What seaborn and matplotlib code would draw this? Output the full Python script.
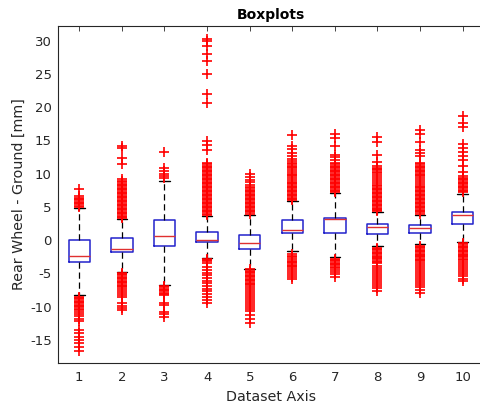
import numpy as np
import pandas as pd
import matplotlib
matplotlib.use("Agg")
import matplotlib.pyplot as plt
import seaborn as sns

# Dataset indices along the x axis
datasets = [1, 2, 3, 4, 5, 6, 7, 8, 9, 10]

# Box statistics per dataset [mm]
whisker_low = [-8.3, -4.8, -6.8, -2.7, -4.3, -1.6, -2.5, -0.9, -0.6, -0.2]
q1 = [-3.3, -1.7, -0.9, -0.3, -1.35, 1.05, 1.05, 1.0, 1.05, 2.4]
median = [-2.4, -1.3, 0.6, 0.05, -0.4, 1.5, 3.15, 2.0, 1.9, 3.75]
q3 = [0.0, 0.35, 3.1, 1.25, 0.8, 3.0, 3.4, 2.45, 2.25, 4.25]
whisker_high = [4.8, 3.2, 8.9, 3.6, 3.8, 5.9, 7.1, 4.2, 3.8, 7.0]

# Outliers above the upper whisker [mm]
outliers_high = [
    [7.7, 6.6, 6.4, 6.2, 6.0, 5.8, 5.6, 5.4, 5.2, 5.0],
    [14.2, 13.8, 12.4, 11.4, 9.2, 8.9, 8.7, 8.5, 8.3, 8.1, 7.9, 7.7, 7.5, 7.3,
     7.1, 6.9, 6.7, 6.5, 6.3, 6.1, 5.9, 5.7, 5.5, 5.3, 5.1, 4.9, 4.7, 4.5, 4.3,
     4.1, 3.9, 3.7, 3.5, 3.4],
    [13.3, 10.8, 10.4, 10.0, 9.6, 9.3],
    [30.2, 29.9, 29.2, 28.0, 27.0, 25.0, 22.0, 20.6, 14.9, 14.3, 13.6, 11.6,
     11.4, 11.2, 11.0, 10.8, 10.6, 10.4, 10.2, 10.0, 9.8, 9.6, 9.4, 9.2, 9.0,
     8.8, 8.6, 8.4, 8.2, 8.0, 7.8, 7.6, 7.4, 7.2, 7.0, 6.8, 6.6, 6.4, 6.2, 6.0,
     5.8, 5.6, 5.4, 5.2, 5.0, 4.8, 4.6, 4.4, 4.2, 4.0, 3.8],
    [9.9, 9.5, 9.1, 8.7, 8.3, 8.0, 7.8, 7.6, 7.4, 7.2, 7.0, 6.8, 6.6, 6.4, 6.2,
     6.0, 5.8, 5.6, 5.4, 5.2, 5.0, 4.8, 4.6, 4.4, 4.2, 4.0],
    [15.8, 14.2, 13.7, 13.1, 12.6, 12.2, 11.9, 11.6, 11.4, 11.2, 11.0, 10.8,
     10.5, 10.2, 10.0, 9.8, 9.6, 9.3, 9.0, 8.8, 8.6, 8.4, 8.2, 8.0, 7.8, 7.6,
     7.4, 7.2, 7.0, 6.8, 6.6, 6.4, 6.2, 6.0],
    [16.0, 15.3, 14.2, 12.8, 12.5, 12.1, 11.6, 11.4, 11.2, 11.0, 10.8, 10.6,
     10.4, 10.2, 10.0, 9.8, 9.6, 9.4, 9.2, 9.0, 8.8, 8.6, 8.4, 8.2, 8.0, 7.8,
     7.6, 7.4, 7.3],
    [15.5, 14.7, 12.8, 11.7, 11.1, 10.9, 10.7, 10.5, 10.3, 10.1, 9.8, 9.5, 9.2,
     8.9, 8.6, 8.3, 8.1, 7.9, 7.7, 7.5, 7.3, 7.1, 6.9, 6.7, 6.5, 6.3, 6.1, 5.9,
     5.7, 5.5, 5.3, 5.1, 4.9, 4.7, 4.5, 4.4],
    [16.6, 16.0, 14.7, 13.6, 13.1, 12.6, 11.6, 11.4, 11.2, 11.0, 10.8, 10.6,
     10.4, 10.2, 10.0, 9.8, 9.6, 9.3, 9.0, 8.7, 8.4, 8.2, 8.0, 7.8, 7.6, 7.4,
     7.2, 7.0, 6.8, 6.6, 6.4, 6.2, 6.0, 5.8, 5.6, 5.4, 5.2, 5.0, 4.8, 4.6, 4.4,
     4.2, 4.0],
    [18.7, 17.6, 17.0, 14.5, 13.8, 13.3, 12.6, 12.1, 11.1, 10.3, 9.6, 9.4, 9.2,
     9.0, 8.8, 8.6, 8.4, 8.2, 8.0, 7.8, 7.6, 7.4, 7.2],
]

# Outliers below the lower whisker [mm]
outliers_low = [
    [-8.5, -8.7, -8.9, -9.1, -9.3, -9.5, -9.7, -9.9, -10.1, -10.3, -10.5,
     -10.8, -11.1, -11.4, -11.9, -12.2, -13.5, -14.0, -14.5, -15.0, -15.5,
     -16.0, -16.6],
    [-4.9, -5.1, -5.3, -5.5, -5.7, -5.9, -6.1, -6.3, -6.5, -6.7, -6.9, -7.1,
     -7.4, -7.7, -8.0, -8.3, -8.6, -9.4, -9.9, -10.2, -10.5],
    [-6.9, -7.1, -7.3, -7.5, -7.7, -7.9, -8.1, -8.3, -9.4, -9.7, -10.8, -11.1,
     -11.5],
    [-2.8, -3.0, -3.2, -3.4, -4.1, -4.5, -4.9, -5.3, -5.7, -6.1, -6.5, -6.9,
     -7.3, -7.7, -8.1, -8.5, -9.0, -9.5],
    [-4.4, -4.6, -4.8, -5.0, -5.2, -5.4, -5.6, -5.8, -6.0, -6.2, -6.4, -6.6,
     -6.8, -7.0, -7.3, -7.6, -7.9, -8.2, -8.5, -8.8, -9.1, -9.4, -9.7, -10.0,
     -10.3, -10.7, -11.2, -11.8, -12.5],
    [-2.1, -2.3, -2.5, -2.8, -3.1, -3.3, -3.5, -3.7, -3.9, -4.1, -4.4, -4.7,
     -5.0, -5.3, -5.6, -5.9],
    [-2.8, -3.0, -3.2, -3.4, -3.6, -3.8, -4.0, -4.2, -4.5, -4.8, -5.1, -5.5],
    [-1.1, -1.3, -1.5, -1.7, -1.9, -2.1, -2.3, -2.5, -2.7, -2.9, -3.1, -3.3,
     -3.5, -3.9, -4.2, -4.5, -4.8, -5.1, -5.4, -5.7, -6.0, -6.3, -6.6, -6.9,
     -7.2, -7.6],
    [-0.8, -1.0, -1.2, -1.4, -1.6, -1.8, -2.0, -2.2, -2.4, -2.6, -2.8, -3.0,
     -3.2, -3.5, -3.8, -4.1, -4.4, -4.7, -5.0, -5.3, -5.6, -5.9, -6.2, -6.5,
     -6.8, -7.1, -7.5, -8.0],
    [-0.4, -0.6, -0.8, -1.0, -1.2, -1.4, -1.6, -1.8, -2.0, -2.2, -2.4, -2.6,
     -2.8, -3.0, -3.3, -3.6, -3.9, -4.2, -4.5, -4.8, -5.1, -5.4, -5.8, -6.1],
]

y_ticks = [-15, -10, -5, 0, 5, 10, 15, 20, 25, 30]

sns.set_style("white")
plt.rcParams["font.family"] = ["DejaVu Sans"]

axis_color = "#262626"

# Five summary values per dataset: with whis=(0, 100) the whiskers reach
# the extreme values and the quartiles land exactly on q1 / median / q3.
box_rows = []
for i, d in enumerate(datasets):
    for v in (whisker_low[i], q1[i], median[i], q3[i], whisker_high[i]):
        box_rows.append({"Dataset": d, "Value": v})
box_df = pd.DataFrame(box_rows)

out_rows = []
for i, d in enumerate(datasets):
    for v in outliers_high[i] + outliers_low[i]:
        out_rows.append({"Dataset": d, "Value": v})
out_df = pd.DataFrame(out_rows)

fig = plt.figure(figsize=(4.81, 4.05), dpi=100)
ax = fig.add_axes([58 / 481, 42 / 405, 426 / 481, 337 / 405])

sns.boxplot(
    data=box_df, x="Dataset", y="Value", native_scale=True,
    whis=(0, 100), width=0.5, fill=False, color="blue", linewidth=1.1,
    boxprops=dict(color="#2222cc", linewidth=1.1),
    whiskerprops=dict(color="black", linestyle=(0, (5, 3)), linewidth=0.9),
    capprops=dict(color="black", linewidth=1.0),
    medianprops=dict(color="#e03030", linewidth=1.0),
    ax=ax,
)

sns.scatterplot(
    data=out_df, x="Dataset", y="Value", marker="+", color="red",
    s=44, linewidth=1.2, legend=False, zorder=3, ax=ax,
)

ax.set_xlim(0.5, 10.5)
ax.set_ylim(-18.46, 32.2)
ax.set_xticks(datasets)
ax.set_xticklabels([str(d) for d in datasets])
ax.set_yticks(y_ticks)
ax.set_yticklabels([str(t) for t in y_ticks])

ax.tick_params(direction="in", top=True, right=False, length=3.5, width=0.6,
               color=axis_color, labelcolor=axis_color, labelsize=9.5)
ax.tick_params(axis="y", pad=4.5)
ax.tick_params(axis="x", pad=6)
for sp in ax.spines.values():
    sp.set_color(axis_color)
    sp.set_linewidth(0.8)

ax.set_xlabel("Dataset Axis", fontsize=10.3, color=axis_color, labelpad=4)
ax.set_ylabel("Rear Wheel - Ground [mm]", fontsize=10.3, color=axis_color,
              labelpad=3)
ax.set_title("Boxplots", fontsize=10, fontweight="bold", color="black", pad=5)

fig.savefig("out.png", dpi=100)
